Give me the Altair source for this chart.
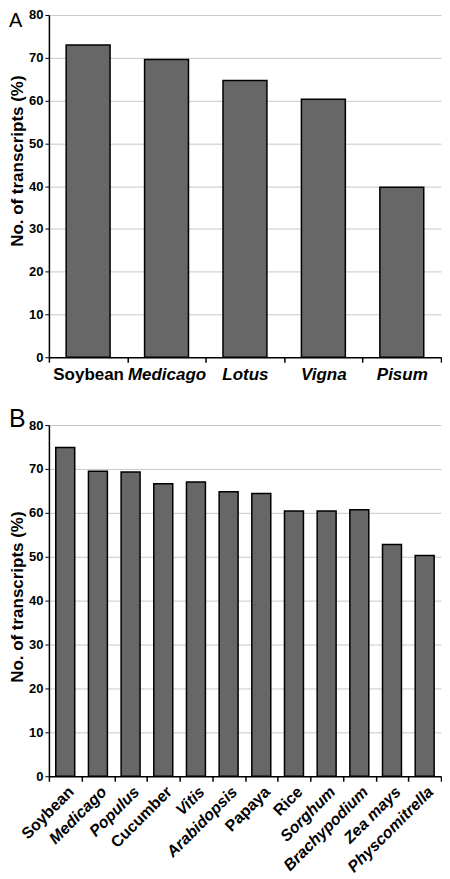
import altair as alt
import pandas as pd

# Panel A data
cats_a = ["Soybean", "Medicago", "Lotus", "Vigna", "Pisum"]
vals_a = [73.0, 69.6, 64.7, 60.3, 39.7]

# Panel B data
cats_b = ["Soybean", "Medicago", "Populus", "Cucumber", "Vitis", "Arabidopsis",
          "Papaya", "Rice", "Sorghum", "Brachypodium", "Zea mays", "Physcomitrella"]
vals_b = [74.9, 69.5, 69.3, 66.6, 67.0, 64.8, 64.4, 60.4, 60.4, 60.7, 52.8, 50.3]

# names shown upright (all others italic)
upright = ["Soybean", "Cucumber", "Papaya", "Rice"]

y_ticks = [0, 10, 20, 30, 40, 50, 60, 70, 80]

FONT = "Liberation Sans"
upright_test = "indexof(" + str(upright).replace(" ", "") + ", datum.value) >= 0"

df_a = pd.DataFrame({"species": cats_a, "pct": vals_a})
df_b = pd.DataFrame({"species": cats_b, "pct": vals_b})


def panel(df, cats, letter, letter_size, letter_y, bar_band, height, angle, title_y, label_size):
    x_axis = alt.Axis(
        title=None,
        labelAngle=angle,
        labelAlign="center" if angle == 0 else "right",
        labelBaseline="top",
        labelFont=FONT,
        labelFontSize=label_size,
        labelFontWeight="bold",
        labelColor="black",
        labelPadding=4 if angle == 0 else 2,
        labelFontStyle=alt.condition(upright_test, alt.value("normal"), alt.value("italic")),
        tickBand="extent",
        tickColor="black",
        tickSize=5,
        tickWidth=1.5,
        domainColor="black",
        domainWidth=1.5,
        grid=False,
        labelOverlap=False,
    )
    y_axis = alt.Axis(
        title="No. of transcripts (%)",
        values=y_ticks,
        titleFont=FONT,
        titleFontSize=17,
        titleFontWeight="bold",
        titleColor="black",
        titleY=title_y,
        titlePadding=2,
        labelFont=FONT,
        labelFontSize=13,
        labelFontWeight="bold",
        labelColor="black",
        labelPadding=2,
        tickColor="black",
        tickSize=4,
        tickWidth=1,
        domainColor="black",
        domainWidth=1.5,
        grid=True,
        gridColor="#c8c8c8",
        gridWidth=1,
    )
    bars = alt.Chart(df).mark_bar(
        color="#676767", stroke="black", strokeWidth=1.5,
        width=alt.RelativeBandSize(bar_band),
    ).encode(
        x=alt.X("species:N", sort=cats, axis=x_axis,
                scale=alt.Scale(paddingInner=0, paddingOuter=0)),
        y=alt.Y("pct:Q", axis=y_axis, scale=alt.Scale(domain=[0, 80], nice=False)),
    )
    lab = alt.Chart(pd.DataFrame({"t": [letter]})).mark_text(
        font=FONT, fontSize=letter_size, align="left", baseline="alphabetic", color="black"
    ).encode(text="t:N", x=alt.value(-40), y=alt.value(letter_y))
    return alt.layer(bars, lab).properties(width=393, height=height)


a = panel(df_a, cats_a, "A", 20, 12, 0.56, 343, 0, 146, 17)
b = panel(df_b, cats_b, "B", 25, 2, 0.58, 352, -45, 172, 16)

chart = alt.vconcat(a, b, spacing=25).properties(
    padding={"left": 0, "top": 0, "right": 0, "bottom": 0}
).configure_view(stroke=None)

chart.save("out.html", embed_options={"renderer": "svg", "actions": False})
